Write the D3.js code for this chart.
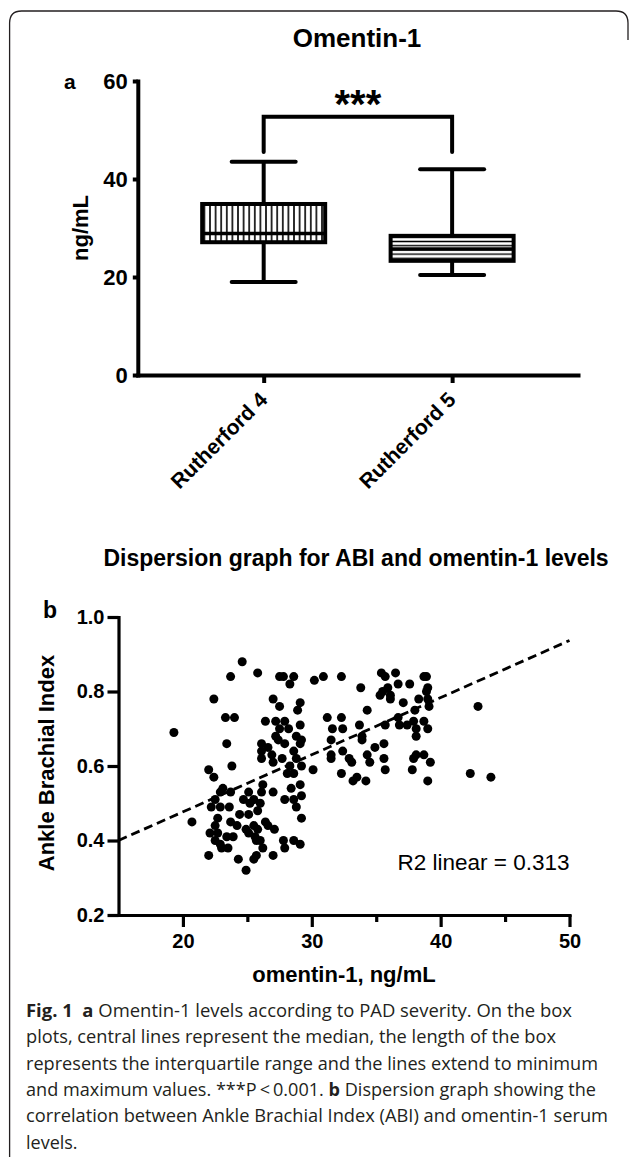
<!DOCTYPE html>
<html>
<head>
<meta charset="utf-8">
<script src="https://cdn.jsdelivr.net/npm/d3@7"></script>
<style>
  body { margin: 0; background: #fff; }
  svg text { font-family: "Liberation Sans", Arial, Helvetica, sans-serif; }
  .caption text { font-family: "Open Sans", "Noto Sans", sans-serif; }
</style>
</head>
<body>
<svg id="fig" width="629" height="1161"></svg>
<script>
// ---- panel a: box plot values (ng/mL) ----
var groups = ["Rutherford 4", "Rutherford 5"];
var boxMin = [19.0, 20.4];
var boxQ1 = [27.1, 23.3];
var boxMedian = [28.9, 25.7];
var boxQ3 = [34.9, 28.4];
var boxMax = [43.5, 42.0];
var boxTicks = [0, 20, 40, 60];
var bracketTop = 52.7, bracketFoot = 45.5;

// ---- panel b: omentin-1 (ng/mL) vs ABI ----
var omentin = [
  24.6,23.7,25.8,27.5,27.8,28.6,28.3,22.4,27.0,27.5,
  29.1,28.9,23.3,24.0,19.3,26.4,27.2,27.9,27.5,28.2,
  29.1,28.8,27.2,27.4,29.2,23.4,26.1,27.9,29.1,26.1,
  26.6,26.9,26.1,27.7,28.6,28.8,27.0,28.3,29.2,22.0,
  23.8,
  30.2,30.9,32.3,33.8,35.4,35.7,36.5,38.7,38.9,36.7,
  37.6,35.9,35.5,35.3,36.1,36.1,39.0,38.9,38.3,39.0,
  39.1,37.1,38.0,34.3,42.9,31.2,32.3,31.6,32.4,33.7,
  35.7,36.7,36.8,37.4,37.9,38.7,38.1,39.0,38.1,31.5,
  33.9,33.9,32.4,34.9,35.6,31.5,31.5,32.9,33.1,34.3,
  34.5,35.6,38.1,38.7,37.9,39.2,35.7,37.8,
  30.1,32.3,33.2,33.5,34.2,39.0,42.3,43.9,29.2,
  22.4,26.2,23.1,22.9,23.7,22.5,22.2,22.9,23.6,25.1,
  24.7,25.5,26.1,26.0,25.2,24.4,25.1,25.8,27.0,27.9,
  28.4,28.6,28.8,29.1,28.1,28.6,20.7,29.2,22.7,22.5,
  23.7,24.2,22.1,22.7,23.4,23.9,22.5,22.9,23.5,23.0,
  24.9,25.5,25.8,25.1,25.6,26.4,26.6,27.1,26.0,26.2,
  25.7,27.8,28.6,29.1,27.9,22.0,24.3,25.5,25.7,27.0,
  24.9
];
var abi = [
  0.88,0.84,0.85,0.84,0.84,0.84,0.82,0.78,0.78,0.76,
  0.77,0.75,0.73,0.73,0.69,0.72,0.72,0.72,0.70,0.70,
  0.71,0.68,0.68,0.67,0.67,0.66,0.66,0.66,0.66,0.64,
  0.65,0.63,0.62,0.62,0.64,0.62,0.61,0.60,0.60,0.59,
  0.60,
  0.83,0.84,0.84,0.81,0.85,0.84,0.85,0.84,0.84,0.82,
  0.82,0.81,0.80,0.79,0.79,0.78,0.81,0.80,0.78,0.78,
  0.76,0.77,0.75,0.75,0.76,0.73,0.73,0.70,0.70,0.71,
  0.71,0.73,0.71,0.71,0.72,0.72,0.70,0.70,0.68,0.67,
  0.68,0.67,0.64,0.65,0.66,0.63,0.62,0.62,0.61,0.63,
  0.61,0.62,0.63,0.63,0.62,0.61,0.59,0.59,
  0.59,0.58,0.56,0.57,0.56,0.56,0.58,0.57,0.52,
  0.57,0.55,0.54,0.53,0.53,0.51,0.49,0.49,0.49,0.53,
  0.51,0.51,0.53,0.50,0.50,0.47,0.47,0.48,0.53,0.51,
  0.54,0.51,0.49,0.55,0.58,0.58,0.45,0.46,0.46,0.44,
  0.45,0.44,0.42,0.42,0.41,0.41,0.40,0.39,0.38,0.38,
  0.43,0.44,0.43,0.42,0.41,0.45,0.44,0.43,0.40,0.38,
  0.40,0.40,0.40,0.39,0.38,0.36,0.35,0.35,0.36,0.36,
  0.32
];
var fitIntercept = 0.170, fitSlope = 0.01534;
var xTicks = [20, 30, 40, 50];
var xMinorTicks = [25, 35, 45];
var yTicks = [0.2, 0.4, 0.6, 0.8, 1.0];

var captionLines = [
  [["Fig. 1", true], ["\u00a0\u00a0", false], ["a", true], [" Omentin-1 levels according to PAD severity. On the box", false]],
  [["plots, central lines represent the median, the length of the box", false]],
  [["represents the interquartile range and the lines extend to minimum", false]],
  [["and maximum values. ***P\u2009<\u20090.001. ", false], ["b", true], [" Dispersion graph showing the", false]],
  [["correlation between Ankle Brachial Index (ABI) and omentin-1 serum", false]],
  [["levels.", false]]
];

var svg = d3.select("#fig");
var ink = "#000";

// page frame
svg.append("path")
    .attr("d", "M9.6,1157 V23 Q9.6,11 21.6,11 H616 Q628,11 628,23 V40")
    .attr("fill", "none")
    .attr("stroke", "#231f20")
    .attr("stroke-width", 1.3);

// ================= panel a =================
var defs = svg.append("defs");
var vh = defs.append("pattern")
    .attr("id", "vhatch")
    .attr("patternUnits", "userSpaceOnUse")
    .attr("width", 5.6).attr("height", 10);
vh.append("rect").attr("width", 5.6).attr("height", 10).attr("fill", "#fff");
vh.append("line").attr("x1", 2.8).attr("x2", 2.8).attr("y1", 0).attr("y2", 10)
    .attr("stroke", ink).attr("stroke-width", 1.6);
var hh = defs.append("pattern")
    .attr("id", "hhatch")
    .attr("patternUnits", "userSpaceOnUse")
    .attr("width", 10).attr("height", 4.2);
hh.append("rect").attr("width", 10).attr("height", 4.2).attr("fill", "#fff");
hh.append("line").attr("x1", 0).attr("x2", 10).attr("y1", 2.1).attr("y2", 2.1)
    .attr("stroke", ink).attr("stroke-width", 1.4);
var fills = ["url(#vhatch)", "url(#hhatch)"];

var boxY = d3.scaleLinear().domain([0, 60]).range([375, 81]);
var boxX = d3.scalePoint().domain(groups).range([137.8, 578]).padding(0.668);
var boxW = 123, capW = 64;

var gA = svg.append("g");

gA.append("text")
    .attr("x", 357).attr("y", 46.7)
    .attr("text-anchor", "middle")
    .style("font-size", "26px").style("font-weight", "bold")
    .text("Omentin-1");

gA.append("text")
    .attr("x", 64).attr("y", 89)
    .style("font-size", "21px").style("font-weight", "bold")
    .text("a");

var yAxisA = gA.append("g")
    .attr("transform", "translate(137.8,0)")
    .call(d3.axisLeft(boxY).tickValues(boxTicks).tickSize(5).tickPadding(5).tickSizeOuter(0));
var xAxisA = gA.append("g")
    .attr("transform", "translate(0,375)")
    .call(d3.axisBottom(boxX).tickSize(8).tickSizeOuter(0).tickFormat(""));
[yAxisA, xAxisA].forEach(function(ax) {
  ax.select(".domain").attr("stroke", ink).attr("stroke-width", 4).attr("stroke-linecap", "square");
  ax.selectAll(".tick line").attr("stroke", ink).attr("stroke-width", 4);
  ax.selectAll("text").attr("fill", ink).style("font-size", "22px").style("font-weight", "bold")
      .style("font-family", "'Liberation Sans', Arial, sans-serif");
});

gA.append("text")
    .attr("transform", "translate(88,228) rotate(-90)")
    .attr("text-anchor", "middle")
    .style("font-size", "22px").style("font-weight", "bold")
    .text("ng/mL");

gA.selectAll(".cat")
    .data(groups)
    .enter().append("text")
    .attr("class", "cat")
    .attr("text-anchor", "end")
    .attr("transform", function(d) { return "translate(" + (boxX(d) + 5) + ",401) rotate(-45)"; })
    .style("font-size", "21px").style("font-weight", "bold")
    .text(function(d) { return d; });

var boxes = gA.selectAll(".box")
    .data(groups)
    .enter().append("g")
    .attr("class", "box");

// whiskers
boxes.append("line")
    .attr("x1", function(d) { return boxX(d); })
    .attr("x2", function(d) { return boxX(d); })
    .attr("y1", function(d, i) { return boxY(boxMax[i]); })
    .attr("y2", function(d, i) { return boxY(boxMin[i]); })
    .attr("stroke", ink).attr("stroke-width", 4);
boxes.selectAll(".cap")
    .data(function(d, i) { return [{x: boxX(d), v: boxMax[i]}, {x: boxX(d), v: boxMin[i]}]; })
    .enter().append("line")
    .attr("class", "cap")
    .attr("x1", function(c) { return c.x - capW / 2; })
    .attr("x2", function(c) { return c.x + capW / 2; })
    .attr("y1", function(c) { return boxY(c.v); })
    .attr("y2", function(c) { return boxY(c.v); })
    .attr("stroke", ink).attr("stroke-width", 4).attr("stroke-linecap", "round");

boxes.append("rect")
    .attr("x", function(d) { return boxX(d) - boxW / 2; })
    .attr("y", function(d, i) { return boxY(boxQ3[i]); })
    .attr("width", boxW)
    .attr("height", function(d, i) { return boxY(boxQ1[i]) - boxY(boxQ3[i]); })
    .attr("fill", function(d, i) { return fills[i]; })
    .attr("stroke", ink).attr("stroke-width", 4);
boxes.append("line")
    .attr("x1", function(d) { return boxX(d) - boxW / 2; })
    .attr("x2", function(d) { return boxX(d) + boxW / 2; })
    .attr("y1", function(d, i) { return boxY(boxMedian[i]); })
    .attr("y2", function(d, i) { return boxY(boxMedian[i]); })
    .attr("stroke", ink).attr("stroke-width", 3.5);

// significance bracket
gA.append("path")
    .attr("d", "M" + boxX(groups[0]) + "," + boxY(bracketFoot) +
               "V" + boxY(bracketTop) + "H" + boxX(groups[1]) + "V" + boxY(bracketFoot))
    .attr("fill", "none").attr("stroke", ink).attr("stroke-width", 4)
    .attr("stroke-linecap", "round");
gA.append("text")
    .attr("x", (boxX(groups[0]) + boxX(groups[1])) / 2).attr("y", 118)
    .attr("text-anchor", "middle")
    .style("font-size", "40px").style("font-weight", "bold")
    .text("***");

// ================= panel b =================
var sx = d3.scaleLinear().domain([15, 50]).range([118.5, 569.5]);
var sy = d3.scaleLinear().domain([0.2, 1.0]).range([915, 617]);
var gB = svg.append("g");

gB.append("text")
    .attr("x", 356).attr("y", 566)
    .attr("text-anchor", "middle")
    .style("font-size", "23px").style("font-weight", "bold")
    .text("Dispersion graph for ABI and omentin-1 levels");

gB.append("text")
    .attr("x", 43).attr("y", 618)
    .style("font-size", "23px").style("font-weight", "bold")
    .text("b");

var yAxisB = gB.append("g")
    .attr("transform", "translate(118.5,0)")
    .call(d3.axisLeft(sy).tickValues(yTicks).tickFormat(d3.format(".1f")).tickSize(11).tickPadding(3).tickSizeOuter(0));
var xAxisB = gB.append("g")
    .attr("transform", "translate(0,915)")
    .call(d3.axisBottom(sx).tickValues(xTicks).tickSize(12).tickPadding(7).tickSizeOuter(0));
var xMinorB = gB.append("g")
    .attr("transform", "translate(0,915)")
    .call(d3.axisBottom(sx).tickValues(xMinorTicks).tickSize(7).tickFormat(""));
xMinorB.select(".domain").remove();
[yAxisB, xAxisB, xMinorB].forEach(function(ax) {
  ax.select(".domain").attr("stroke", ink).attr("stroke-width", 3.2).attr("stroke-linecap", "square");
  ax.selectAll(".tick line").attr("stroke", ink).attr("stroke-width", 3.2);
  ax.selectAll("text").attr("fill", ink).style("font-size", "20px").style("font-weight", "bold")
      .style("font-family", "'Liberation Sans', Arial, sans-serif");
});

gB.append("text")
    .attr("transform", "translate(54,763) rotate(-90)")
    .attr("text-anchor", "middle")
    .style("font-size", "22px").style("font-weight", "bold")
    .text("Ankle Brachial Index");

gB.append("text")
    .attr("x", 344).attr("y", 982)
    .attr("text-anchor", "middle")
    .style("font-size", "22px").style("font-weight", "bold")
    .text("omentin-1, ng/mL");

gB.selectAll(".dot")
    .data(omentin)
    .enter().append("circle")
    .attr("class", "dot")
    .attr("cx", function(d) { return sx(d); })
    .attr("cy", function(d, i) { return sy(abi[i]); })
    .attr("r", 4.5)
    .attr("fill", ink);

var fitLine = d3.line()
    .x(function(d) { return sx(d); })
    .y(function(d) { return sy(fitIntercept + fitSlope * d); });
gB.append("path")
    .datum(sx.domain())
    .attr("d", fitLine)
    .attr("fill", "none")
    .attr("stroke", ink).attr("stroke-width", 2.8)
    .attr("stroke-dasharray", "9,5");

gB.append("text")
    .attr("x", 569.5).attr("y", 870)
    .attr("text-anchor", "end")
    .style("font-size", "22.5px")
    .text("R2 linear = 0.313");

// ================= caption =================
var lineWidths = [546, 530, 572, 570, 582, null];
var cap = svg.append("g").attr("class", "caption");
captionLines.forEach(function(parts, i) {
  var t = cap.append("text")
      .attr("x", 26).attr("y", 1016.7 + i * 26.4)
      .attr("fill", "#231f20")
      .style("font-size", "18px");
  if (lineWidths[i]) t.attr("textLength", lineWidths[i]).attr("lengthAdjust", "spacingAndGlyphs");
  parts.forEach(function(p) {
    t.append("tspan")
        .style("font-weight", p[1] ? "bold" : "normal")
        .text(p[0]);
  });
});
</script>
</body>
</html>
